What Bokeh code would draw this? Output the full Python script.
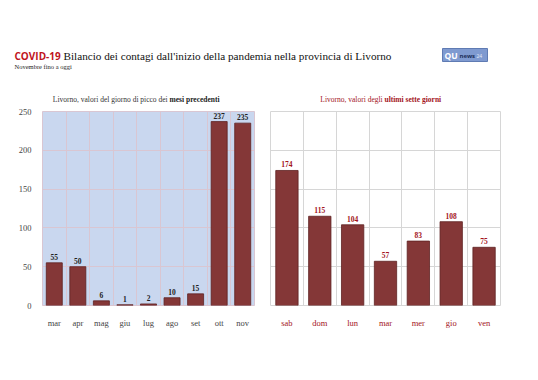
from bokeh.plotting import figure
from bokeh.layouts import column, row
from bokeh.models import Range1d, FixedTicker
from bokeh.core.properties import value
from bokeh.embed import file_html
from bokeh.resources import INLINE

# ---- data ----
months = ["mar", "apr", "mag", "giu", "lug", "ago", "set", "ott", "nov"]
month_peaks = [55, 50, 6, 1, 2, 10, 15, 237, 235]
days = ["sab", "dom", "lun", "mar", "mer", "gio", "ven"]
day_values = [174, 115, 104, 57, 83, 108, 75]
y_ticks = [0, 50, 100, 150, 200, 250]

title_red = "COVID-19"
title_main = "Bilancio dei contagi dall'inizio della pandemia nella provincia di Livorno"
subtitle = "Novembre fino a oggi"
left_title_a = "Livorno, valori del giorno di picco dei "
left_title_b = "mesi precedenti"
right_title_a = "Livorno, valori degli "
right_title_b = "ultimi sette giorni"

SERIF = value("Liberation Serif")
SANS = value("Open Sans")
BAR = "#843737"
BAR_LINE = "#5e2222"
RED = "#a3141c"

# ---- header ----
h = figure(width=530, height=104, x_range=Range1d(0, 530), y_range=Range1d(104, 0),
           output_backend="svg", toolbar_location=None,
           x_axis_location=None, y_axis_location=None,
           min_border=0, outline_line_color=None)
h.xgrid.visible = False
h.ygrid.visible = False
h.text(x=[14], y=[55], text=[title_red], text_font=SANS, text_font_style="bold",
       text_font_size="10px", text_color="#c0141c", text_baseline="alphabetic")
h.text(x=[63], y=[55], text=[title_main], text_font=SERIF,
       text_font_size="11.2px", text_color="#111111", text_baseline="alphabetic")
h.text(x=[14], y=[66], text=[subtitle], text_font=SERIF,
       text_font_size="6.5px", text_color="#222222", text_baseline="alphabetic")
# logo
h.quad(left=[442], right=[487], top=[48], bottom=[61], fill_color="#7f9ad0",
       line_color="#5f7bb3", line_width=1)
h.text(x=[444], y=[54.5], text=["QU"], text_font=SANS, text_font_style="bold",
       text_font_size="8.5px", text_color="white", text_baseline="middle")
h.text(x=[459], y=[55], text=["news"], text_font=SANS, text_font_style="bold",
       text_font_size="6px", text_color="#1d2f5a", text_baseline="middle")
h.text(x=[476], y=[55], text=["24"], text_font=SANS,
       text_font_size="5px", text_color="#e4ebf7", text_baseline="middle")
# chart titles
h.text(x=[169], y=[99], text=[left_title_a], text_font=SERIF, text_font_size="7.5px",
       text_color="#333333", text_align="right", text_baseline="middle")
h.text(x=[169], y=[99], text=[left_title_b], text_font=SERIF, text_font_size="7.5px",
       text_font_style="bold", text_color="#222222", text_align="left", text_baseline="middle")
h.text(x=[384], y=[99], text=[right_title_a], text_font=SERIF, text_font_size="7.5px",
       text_color=RED, text_align="right", text_baseline="middle")
h.text(x=[384], y=[99], text=[right_title_b], text_font=SERIF, text_font_size="7.5px",
       text_font_style="bold", text_color=RED, text_align="left", text_baseline="middle")


def make_chart(cats, vals, width, mbl, mbr, bg, grid_color, label_color, tick_color, show_y):
    n = len(cats)
    pos = list(range(n))
    p = figure(width=width, height=268, x_range=Range1d(-0.5, n - 0.5),
               y_range=Range1d(0, 250), output_backend="svg", toolbar_location=None,
               min_border_left=mbl, min_border_right=mbr, min_border_top=7,
               min_border_bottom=67, y_axis_location="left" if show_y else None)
    p.background_fill_color = bg
    p.border_fill_color = "white"
    p.outline_line_color = grid_color
    p.xaxis.ticker = FixedTicker(ticks=pos)
    p.xaxis.major_label_overrides = {i: c for i, c in zip(pos, cats)}
    p.xaxis.axis_line_color = None
    p.xaxis.major_tick_line_color = None
    p.xaxis.minor_tick_line_color = None
    p.xaxis.major_label_text_font = "Liberation Serif"
    p.xaxis.major_label_text_font_size = "8.5px"
    p.xaxis.major_label_text_color = tick_color
    p.xaxis.major_label_standoff = 6
    p.xgrid.ticker = FixedTicker(ticks=[i + 0.5 for i in pos[:-1]])
    p.xgrid.grid_line_color = grid_color
    p.ygrid.ticker = FixedTicker(ticks=y_ticks)
    p.ygrid.grid_line_color = grid_color
    if show_y:
        p.yaxis.ticker = FixedTicker(ticks=y_ticks)
        p.yaxis.axis_line_color = None
        p.yaxis.major_tick_line_color = None
        p.yaxis.minor_tick_line_color = None
        p.yaxis.major_label_text_font = "Liberation Serif"
        p.yaxis.major_label_text_font_size = "8.5px"
        p.yaxis.major_label_text_color = "#444444"
        p.yaxis.major_label_standoff = 5
    p.vbar(x=pos, top=vals, width=0.68, bottom=0, fill_color=BAR,
           line_color=BAR_LINE, line_width=0.8)
    p.text(x=pos, y=vals, text=[str(v) for v in vals], text_font=SERIF,
           text_font_style="bold", text_font_size="7.5px", text_color=label_color,
           text_align="center", text_baseline="bottom", y_offset=-3)
    return p


left = make_chart(months, month_peaks, 262, 42, 8, "#c9d7ef", "#d9c6d2", "#222222", "#444444", True)
right = make_chart(days, day_values, 268, 8, 30, "white", "#d6d6d6", RED, RED, False)

layout = column(h, row(left, right))
open("out.html", "w").write(file_html(layout, INLINE))
